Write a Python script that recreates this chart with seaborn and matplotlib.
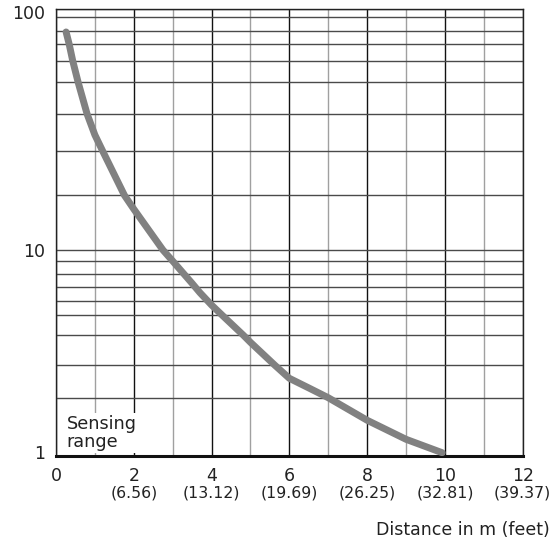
import matplotlib
matplotlib.use("Agg")
import matplotlib.pyplot as plt
import matplotlib.transforms as mtransforms
import seaborn as sns
import pandas as pd
import numpy as np
from matplotlib.ticker import FixedLocator, NullFormatter

# ---- data ----
distance_m = [0.26, 0.34, 0.43, 0.57, 0.8, 1.0, 1.2, 1.76, 2.0, 2.75, 3.0, 3.5,
              3.7, 4.0, 4.26, 4.82, 5.0, 5.63, 6.0, 6.5, 7.0, 8.0, 9.0, 9.93]
sensing = [79, 70, 60, 50, 40, 34, 30, 20, 16.8, 10, 9.0, 7.25,
           6.56, 5.67, 5.0, 4.0, 3.74, 3.0, 2.55, 2.26, 2.0, 1.53, 1.22, 1.04]

x_ticks = [0, 2, 4, 6, 8, 10, 12]
x_tick_labels = ["0", "2", "4", "6", "8", "10", "12"]
feet_labels = ["", "(6.56)", "(13.12)", "(19.69)", "(26.25)", "(32.81)", "(39.37)"]
x_minor = [1, 3, 5, 7, 9, 11]
y_ticks = [1, 10, 100]
y_tick_labels = ["1", "10", "100"]

# The reference's y axis is a hand-drawn, non-uniform "log" scale:
# grid levels and where each level sits (fraction of the axis height).
scale_levels = [1, 2, 3, 4, 5, 6, 7, 8, 9, 10, 20, 30, 40, 50, 60, 70, 80, 90, 100]
scale_fracs = np.array([0, 58.3, 90.7, 120.7, 141.3, 155.3, 169.3, 182, 195, 206,
                        260.7, 305, 342, 373.7, 395.3, 411.7, 425.3, 438.7, 446.7]) / 446.7
_log_levels = np.log10(scale_levels)


def fwd(v):
    v = np.clip(np.asarray(v, dtype=float), 1e-6, None)
    return np.interp(np.log10(v), _log_levels, scale_fracs)


def inv(p):
    return 10 ** np.interp(np.asarray(p, dtype=float), scale_fracs, _log_levels)


df = pd.DataFrame({"distance": distance_m, "range": sensing})

sns.set_theme(style="white")
plt.rcParams["font.family"] = ["DejaVu Sans"]

fig = plt.figure(figsize=(5.52, 5.46), dpi=100)
ax = fig.add_axes([0.1014, 0.1648, 0.8455, 0.8182])

ax.set_yscale("function", functions=(fwd, inv))

sns.lineplot(data=df, x="distance", y="range", ax=ax, color="#818181",
             linewidth=5, solid_capstyle="round", solid_joinstyle="round", zorder=4)

ax.set_xlim(0, 12)
ax.set_ylim(1, 100)

ax.set_xticks(x_ticks)
ax.set_xticklabels(x_tick_labels, fontsize=12.5, color="#222222")
ax.xaxis.set_minor_locator(FixedLocator(x_minor))
ax.set_yticks(y_ticks)
ax.set_yticklabels(y_tick_labels, fontsize=12.5, color="#222222")
ax.yaxis.set_minor_locator(FixedLocator([v for v in scale_levels if v not in y_ticks]))
ax.yaxis.set_minor_formatter(NullFormatter())
ax.tick_params(axis="both", which="both", length=0)
ax.tick_params(axis="x", pad=8)
ax.tick_params(axis="y", pad=8)

# nudge the end labels as in the reference (100 sits a little low, 1 a little high)
for lab in ax.get_yticklabels():
    if lab.get_text() == "100":
        lab.set_transform(lab.get_transform() + mtransforms.ScaledTranslation(0, -3 / 100, fig.dpi_scale_trans))
    elif lab.get_text() == "1":
        lab.set_transform(lab.get_transform() + mtransforms.ScaledTranslation(0, 4 / 100, fig.dpi_scale_trans))

ax.set_axisbelow(True)
ax.grid(which="major", axis="x", color="#111111", linewidth=1)
ax.grid(which="minor", axis="x", color="#a0a0a0", linewidth=1)
ax.grid(which="both", axis="y", color="#4a4a4a", linewidth=1)

for s in ["left", "top", "right"]:
    ax.spines[s].set_visible(True)
    ax.spines[s].set_color("#222222")
    ax.spines[s].set_linewidth(1)
ax.spines["bottom"].set_visible(True)
ax.spines["bottom"].set_color("#111111")
ax.spines["bottom"].set_linewidth(2.2)

ax.set_xlabel("")
ax.set_ylabel("")

for xv, lab in zip(x_ticks, feet_labels):
    if lab:
        ax.text(xv, -0.083, lab, transform=ax.get_xaxis_transform(),
                ha="center", va="center", fontsize=11.3, color="#222222")

ax.text(0.27, 0.012, "Sensing\nrange", transform=ax.get_xaxis_transform(),
        ha="left", va="bottom", fontsize=12.7, color="#222222", linespacing=0.95,
        bbox=dict(facecolor="white", edgecolor="none", pad=2), zorder=3)

fig.text(550 / 552, 1 - 530 / 546, "Distance in m (feet)", ha="right", va="center",
         fontsize=12.5, color="#222222")

fig.savefig("out.png", dpi=100)
